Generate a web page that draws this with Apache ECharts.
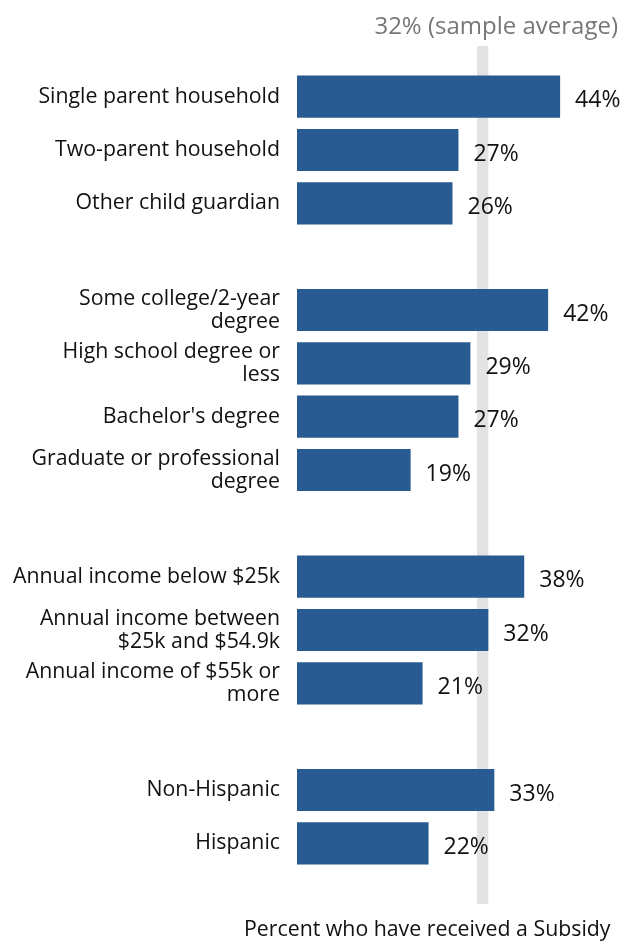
<!DOCTYPE html>
<html><head><meta charset="utf-8">
<script src="https://cdn.jsdelivr.net/npm/echarts@6/dist/echarts.min.js"></script>
<style>html,body{margin:0;padding:0;background:#fff}#c{width:625px;height:942px}</style>
</head><body><div id="c"></div>
<script>
var categories = [
  'Single parent household','Two-parent household','Other child guardian','',
  'Some college/2-year\ndegree','High school degree or\nless',"Bachelor's degree",'Graduate or professional\ndegree','',
  'Annual income below $25k','Annual income between\n$25k and $54.9k','Annual income of $55k or\nmore','',
  'Non-Hispanic','Hispanic'
];
var values = [44,27,26,null, 42,29,27,19,null, 38,32,21,null, 33,22];
var sampleAverage = 32;
var axisTitle = 'Percent who have received a Subsidy';
var FONT = '"Open Sans", sans-serif';

var chart = echarts.init(document.getElementById('c'));
chart.setOption({
  animation: false,
  textStyle: {fontFamily: FONT},
  title: [
    {text: sampleAverage + '% (sample average)', right: 2, top: 10,
     textStyle: {fontFamily: FONT, fontSize: 24, fontWeight: 'normal', color: '#777'}},
    {text: axisTitle, left: 239, top: 914,
     textStyle: {fontFamily: FONT, fontSize: 21.3, fontWeight: 'normal', color: '#111'}}
  ],
  grid: [
    {left: 297, width: 299, top: 70, height: 800, containLabel: false, outerBoundsMode: 'none'},
    {left: 297, width: 299, top: 46, height: 858, containLabel: false, outerBoundsMode: 'none'}
  ],
  xAxis: [
    {gridIndex: 0, type: 'value', min: 0, max: 50, show: true,
     axisLine: {show: false}, axisTick: {show: false}, axisLabel: {show: false}, splitLine: {show: false}},
    {gridIndex: 1, type: 'value', min: 0, max: 50, show: false}
  ],
  yAxis: [
    {gridIndex: 0, type: 'category', inverse: true, data: categories,
     axisLine: {show: false}, axisTick: {show: false}, splitLine: {show: false},
     axisLabel: {margin: 17, fontFamily: FONT, fontSize: 21.3, color: '#111', lineHeight: 23, align: 'right'}},
    {gridIndex: 1, type: 'value', min: 0, max: 1, show: false}
  ],
  series: [
    {type: 'line', xAxisIndex: 1, yAxisIndex: 1, data: [], z: 0, silent: true,
     markArea: {silent: true, itemStyle: {color: '#e3e3e3'},
       data: [[{xAxis: sampleAverage - 1.9}, {xAxis: sampleAverage}]]}},
    {type: 'bar', xAxisIndex: 0, yAxisIndex: 0, data: values, z: 2,
     barCategoryGap: '21%',
     itemStyle: {color: '#275b92'},
     label: {show: true, position: 'right', distance: 15, offset: [0, 4],
       formatter: '{c}%', fontFamily: FONT, fontSize: 23, color: '#111'}}
  ]
});
</script></body></html>
